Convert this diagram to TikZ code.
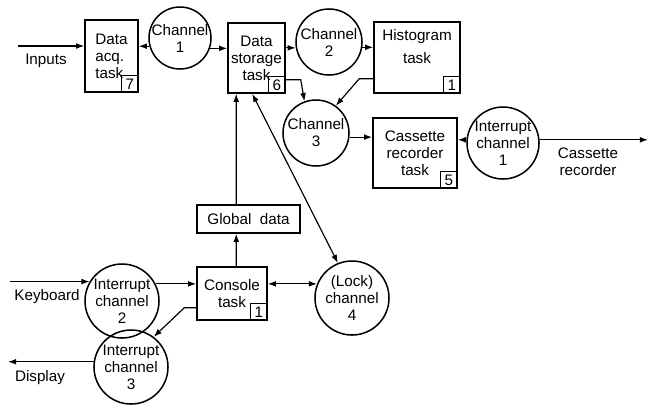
\documentclass[tikz,border=0pt]{standalone}
\usepackage{fontspec}
\setmainfont{Liberation Sans}
\usetikzlibrary{arrows.meta,calc}

\tikzset{
  task/.style={draw, line width=1.3pt, align=center, inner sep=2pt},
  chan/.style={draw, circle, line width=1.3pt, align=center, inner sep=-6pt},
  prio/.style={draw, line width=1pt, minimum size=0.5cm, inner sep=0pt, anchor=south east},
  flow/.style={line width=1pt, -{Latex[length=7pt,width=5pt]}},
  twoway/.style={line width=1pt, {Latex[length=7pt,width=5pt]}-{Latex[length=7pt,width=5pt]}}
}

\begin{document}
\begin{tikzpicture}[x=0.03cm, y=-0.03cm, font=\fontsize{13}{14.5}\selectfont]

\useasboundingbox (0,0) rectangle (656,407);

% Free ends of the outside lines
\coordinate (inputs) at (18,46);
\coordinate (cassout) at (648,140);
\coordinate (kbd) at (10,282);
\coordinate (disp) at (8,362);

% Tasks
\node[task, align=left, minimum width=1.59cm, minimum height=2.16cm] (acq) at (111.5,56) {Data\\acq.\\task};
\node[task, minimum width=1.71cm, minimum height=2.1cm] (store) at (256.5,58) {Data\\storage\\task};
\node[task, minimum width=2.58cm, minimum height=2.13cm] (hist) at (417,57.5) {Histogram\\[5pt]task\\[4pt]};
\node[task, minimum width=2.52cm, minimum height=2.1cm] (cass) at (415,153) {Cassette\\recorder\\task};
\node[task, minimum width=3.09cm, minimum height=0.84cm] (glob) at (248.5,219) {Global\ \ data};
\node[task, minimum width=2.1cm, minimum height=1.59cm] (con) at (232,293.5) {Console\\task};

% Priority numbers
\node[prio] (acqno) at (acq.south east) {7};
\node[prio] (storeno) at (store.south east) {6};
\node[prio] (histno) at (hist.south east) {1};
\node[prio] (cassno) at (cass.south east) {5};
\node[prio] (conno) at (con.south east) {1};

% Channels
\node[chan, minimum size=1.86cm] (ch1) at (180,38) {Channel\\1};
\node[chan, minimum size=1.98cm] (ch2) at (329,42) {Channel\\2};
\node[chan, minimum size=1.98cm] (ch3) at (316,133) {Channel\\3};
\node[chan, minimum size=2.16cm] (ich1) at (503,143) {Interrupt\\channel\\1};
\node[chan, minimum size=2.22cm] (ich2) at (122,301) {Interrupt\\channel\\2};
\node[chan, minimum size=2.22cm] (ich3) at (131,367) {Interrupt\\channel\\3};
\node[chan, minimum size=2.22cm] (lock) at (352,298) {(Lock)\\channel\\4};

% Outside labels
\node (inlbl) at (46,61) {Inputs};
\node[align=center] (caslbl) at (588,162) {Cassette\\recorder};
\node (kbdlbl) at (47,297) {Keyboard};
\node (displbl) at (40,378) {Display};

% Upper row
\draw[flow] (inputs) -- (acq.west |- inputs);
\draw[flow] (ch1.195) -- (acq.east |- ch1.195);
\draw[flow] (ch1.-19) -- (store.west |- ch1.-19);
\draw[flow] (store.east |- ch2.190) -- (ch2.190);
\draw[flow] (ch2.-9) -- (hist.west |- ch2.-9);
\draw[flow] ($(hist.south west)+(0,-15)$) -- ++(-14,0) -- (ch3.54);
\draw[flow] ($(store.south east)+(0,-14)$) -- ++(15,0) -- (ch3.110);
\draw[flow] (ch3.-7) -- (cass.west |- ch3.-7);
\draw[flow] (ich1.175) -- (cass.east |- ich1.175);
\draw[flow] (ich1.5) -- (cassout |- ich1.5);

% Lower part
\draw[flow] ($(glob.north west)+(40,0)$) -- ($(store.south west)+(9,0)$);
\draw[twoway] ($(store.south west)+(25,0)$) -- (lock.112);
\draw[flow] ($(con.north west)+(40,0)$) -- ($(glob.south west)+(40,0)$);
\draw[flow] (kbd |- ich2.149) -- (ich2.149);
\draw[flow] (ich2.27) -- (con.west |- ich2.27);
\draw[twoway] (con.east |- lock.158) -- (lock.158);
\draw[flow] ($(con.south west)+(0,-13)$) -- ++(-12,0) -- (ich3.53);
\draw[flow] (ich3.172) -- (disp |- ich3.172);

\end{tikzpicture}
\end{document}
